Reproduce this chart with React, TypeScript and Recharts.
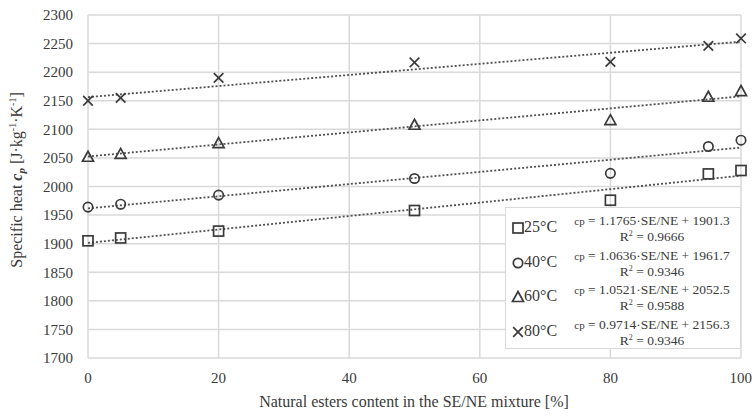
import { CartesianGrid, ComposedChart, Line, Scatter, XAxis, YAxis } from 'recharts'

const xValues = [0, 5, 20, 50, 80, 95, 100]
const cp25 = [1905, 1910, 1922, 1958, 1976, 2022, 2028]
const cp40 = [1964, 1969, 1985, 2014, 2023, 2070, 2081]
const cp60 = [2052, 2057, 2076, 2108, 2116, 2157, 2167]
const cp80 = [2150, 2155, 2190, 2217, 2218, 2246, 2259]

const seriesNames = ['25°C', '40°C', '60°C', '80°C']
const seriesShapes = ['square', 'circle', 'triangle', 'cross']
const trendStart = [1901.3, 1961.7, 2052.5, 2156.3]
const trendEnd = [2018.9, 2068.1, 2157.7, 2253.4]
const equations = [
  '= 1.1765·SE/NE + 1901.3',
  '= 1.0636·SE/NE + 1961.7',
  '= 1.0521·SE/NE + 2052.5',
  '= 0.9714·SE/NE + 2156.3'
]
const rSquared = ['0.9666', '0.9346', '0.9588', '0.9346']

const yTicks = [1700, 1750, 1800, 1850, 1900, 1950, 2000, 2050, 2100, 2150, 2200, 2250, 2300]
const xTicks = [0, 20, 40, 60, 80, 100]

const FONT = '"Liberation Serif", "Times New Roman", serif'
const INK = '#3a3a3a'

const allValues = [cp25, cp40, cp60, cp80]

function MarkerShape({ kind, cx, cy }: { kind: string; cx: number; cy: number }) {
  const props = { stroke: INK, strokeWidth: 1.7, fill: 'none' }
  if (kind === 'square') return <rect x={cx - 5} y={cy - 5} width={10} height={10} {...props} />
  if (kind === 'circle') return <circle cx={cx} cy={cy} r={4.7} {...props} />
  if (kind === 'triangle')
    return <polygon points={`${cx},${cy - 5.5} ${cx + 5.5},${cy + 4.5} ${cx - 5.5},${cy + 4.5}`} {...props} />
  return (
    <g {...props}>
      <line x1={cx - 4.8} y1={cy - 4.8} x2={cx + 4.8} y2={cy + 4.8} />
      <line x1={cx - 4.8} y1={cy + 4.8} x2={cx + 4.8} y2={cy - 4.8} />
    </g>
  )
}

function YTitle() {
  return (
    <text
      transform="translate(22, 180) rotate(-90)"
      textAnchor="middle"
      fontFamily={FONT}
      fontSize={16}
      fill={INK}
    >
      <tspan>Specific heat  </tspan>
      <tspan fontStyle="italic" fontWeight="bold">c</tspan>
      <tspan fontStyle="italic" fontWeight="bold" fontSize={11} dy={3}>p</tspan>
      <tspan dy={-3}>  [J·kg</tspan>
      <tspan fontSize={10} dy={-6}>-1</tspan>
      <tspan dy={6}>·K</tspan>
      <tspan fontSize={10} dy={-6}>-1</tspan>
      <tspan dy={6}>]</tspan>
    </text>
  )
}

function XTitle() {
  return (
    <text x={414} y={407} textAnchor="middle" fontFamily={FONT} fontSize={16} fill={INK}>
      Natural esters content in the SE/NE mixture [%]
    </text>
  )
}

function LegendBox() {
  return (
    <div
      style={{
        position: 'absolute',
        left: 505,
        top: 207,
        width: 236,
        height: 142,
        border: '1px solid #d9d9d9',
        background: '#fff',
        fontFamily: FONT,
        color: INK,
        boxSizing: 'border-box',
        paddingTop: 3
      }}
    >
      {seriesNames.map((name, i) => (
        <div key={name} style={{ position: 'relative', height: 34.5 }}>
          <svg width={14} height={14} style={{ position: 'absolute', left: 5, top: 10 }}>
            <MarkerShape kind={seriesShapes[i]} cx={7} cy={7} />
          </svg>
          <span style={{ position: 'absolute', left: 18, top: 7, fontSize: 16 }}>{name}</span>
          <div
            style={{
              position: 'absolute',
              left: 60,
              width: 172,
              top: 2,
              textAlign: 'center',
              fontSize: 13.5,
              lineHeight: '15px'
            }}
          >
            <div>
              <span style={{ fontSize: 11 }}>cp</span> {equations[i]}
            </div>
            <div>
              R<sup style={{ fontSize: 8, verticalAlign: 'top', lineHeight: '10px' }}>2</sup> = {rSquared[i]}
            </div>
          </div>
        </div>
      ))}
    </div>
  )
}

export default function App() {
  return (
    <div style={{ position: 'relative', width: 752, height: 416, background: '#fff' }}>
      <style>{'body{margin:0}'}</style>
      <ComposedChart width={752} height={416} margin={{ top: 15, right: 11, bottom: 0, left: 0 }}>
        <CartesianGrid stroke="#d9d9d9" strokeWidth={1.5} />
        <XAxis
          dataKey="x"
          type="number"
          domain={[0, 100]}
          ticks={xTicks}
          height={58}
          axisLine={false}
          tickLine={false}
          tickSize={0}
          tickMargin={14}
          tick={{ fill: INK, fontSize: 15, fontFamily: FONT }}
          label={{ content: () => <XTitle /> }}
        />
        <YAxis
          dataKey="y"
          type="number"
          domain={[1700, 2300]}
          ticks={yTicks}
          width={88}
          axisLine={false}
          tickLine={false}
          tickSize={0}
          tickMargin={15}
          tick={{ fill: INK, fontSize: 15, fontFamily: FONT }}
          label={{ content: () => <YTitle /> }}
        />
        {seriesNames.map((name, i) => (
          <Line
            key={`trend-${name}`}
            data={[
              { x: 0, y: trendStart[i] },
              { x: 100, y: trendEnd[i] }
            ]}
            dataKey="y"
            type="linear"
            stroke="#505050"
            strokeWidth={1.8}
            strokeDasharray="2 2"
            dot={false}
            activeDot={false}
            isAnimationActive={false}
          />
        ))}
        {seriesNames.map((name, i) => (
          <Scatter
            key={name}
            name={name}
            data={xValues.map((x, j) => ({ x, y: allValues[i][j] }))}
            isAnimationActive={false}
            shape={(p: any) => <MarkerShape kind={seriesShapes[i]} cx={p.cx} cy={p.cy} />}
          />
        ))}
      </ComposedChart>
      <LegendBox />
    </div>
  )
}
